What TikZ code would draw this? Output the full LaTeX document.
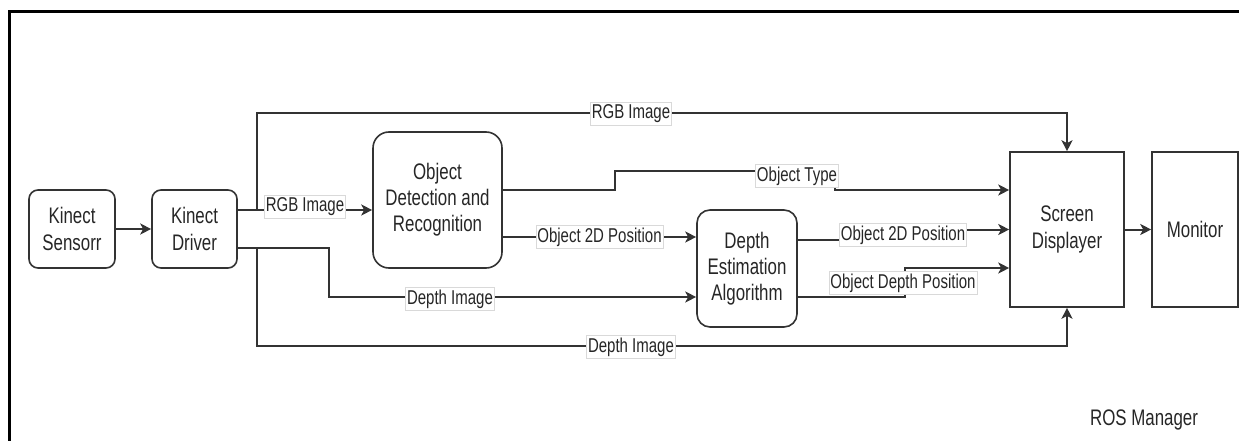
\documentclass[tikz,border=0pt]{standalone}
\usepackage{fontspec}
\setmainfont{Liberation Sans}[FakeStretch=0.75]
\usetikzlibrary{arrows.meta}
\definecolor{ln}{HTML}{333333}
\begin{document}
\begin{tikzpicture}[x=1pt,y=-1pt,
  box/.style={draw=ln,line width=1.6pt,align=center,inner sep=0pt,
    font=\fontsize{22.5}{27}\selectfont,text=black!85},
  rbox/.style={box,rounded corners=9pt},
  edge/.style={draw=ln,line width=2pt},
  arr/.style={edge,-{Stealth[length=11pt,width=11pt,inset=3pt]}},
  lbl/.style={fill=white,draw=black!15,line width=0.7pt,inner xsep=1.5pt,inner ysep=2.5pt,
    font=\fontsize{20}{22}\selectfont,text=black!85}]
\useasboundingbox (0,0) rectangle (1239,441);
\draw[line width=3pt] (9.5,441) -- (9.5,11.5) -- (1239,11.5);

\node[rbox,minimum width=86pt,minimum height=78pt] (s) at (72,229) {Kinect\\Sensorr};
\node[rbox,minimum width=85pt,minimum height=78pt] (d) at (194.5,229) {Kinect\\Driver};
\node[box,rounded corners=16pt,minimum width=129pt,minimum height=136pt,font=\fontsize{22.5}{26}\selectfont] (obj) at (437.5,200) {Object\\Detection and\\Recognition};
\node[box,rounded corners=13pt,minimum width=100pt,minimum height=117pt,font=\fontsize{22.5}{26}\selectfont] (dep) at (747,268.5) {Depth\\Estimation\\Algorithm};
\node[box,minimum width=114pt,minimum height=155pt] (scr) at (1067,229.5) {Screen\\Displayer};
\node[box,minimum width=86pt,minimum height=155pt] (mon) at (1195,229.5) {Monitor};
\node[font=\fontsize{22.5}{27}\selectfont,text=black!85] (ros) at (1144,420) {ROS Manager};

\coordinate (bx) at (257,0);
\coordinate (mx) at (329,0);
\coordinate (topy) at (0,113);
\coordinate (boty) at (0,346);
\coordinate (dr1) at ([yshift=19pt]d.east);
\coordinate (dr2) at ([yshift=-19pt]d.east);

% Kinect Sensor -> Driver
\draw[arr] (s.east) -- (d.west);
% RGB image to object detection
\draw[arr] (dr1) -- (dr1 -| obj.west) node[lbl,pos=0.5,yshift=3pt] {RGB Image};
% RGB image top route
\draw[arr] (dr1) -| (bx |- topy) -| (scr.north);
\node[lbl] (l1) at (631,114) {RGB Image};
% Depth image bottom route
\draw[arr] (dr2) -| (bx |- boty) -| (scr.south);
\node[lbl] (l2) at (631,347) {Depth Image};
% Depth image to depth estimation
\coordinate (dp) at ([yshift=-28.5pt]dep.west);
\draw[arr] (dr2) -| (mx |- dp) -- (dp);
\node[lbl] (l3) at (450,299) {Depth Image};
% Object 2D position to depth estimation
\draw[arr] ([yshift=-37pt]obj.east) -- ([yshift=31.5pt]dep.west) node[lbl,pos=0.5] {Object 2D Position};
% Object type
\coordinate (ot1) at ([yshift=10pt]obj.east);
\coordinate (ot2) at ([yshift=39.5pt]scr.west);
\draw[arr] (ot1) -- (615,190) -- (615,171) -- (835,171) -- (835,190) -- (ot2);
\node[lbl] (l4) at (797,176) {Object Type};
% Object 2D position to screen
\coordinate (p1) at ([yshift=28.5pt]dep.east);
\coordinate (p2) at (scr.west);
\draw[arr] (p1) -- (903,240) -- (903,229.5) -- (p2);
\node[lbl] (l5) at (903,235) {Object 2D Position};
% Object depth position to screen
\coordinate (q1) at ([yshift=-28.5pt]dep.east);
\coordinate (q2) at ([yshift=-38.5pt]scr.west);
\draw[arr] (q1) -- (905,297) -- (905,268) -- (q2);
\node[lbl] (l6) at (903,283) {Object Depth Position};
% Screen -> Monitor
\draw[arr] (scr.east) -- (mon.west);
\end{tikzpicture}
\end{document}
